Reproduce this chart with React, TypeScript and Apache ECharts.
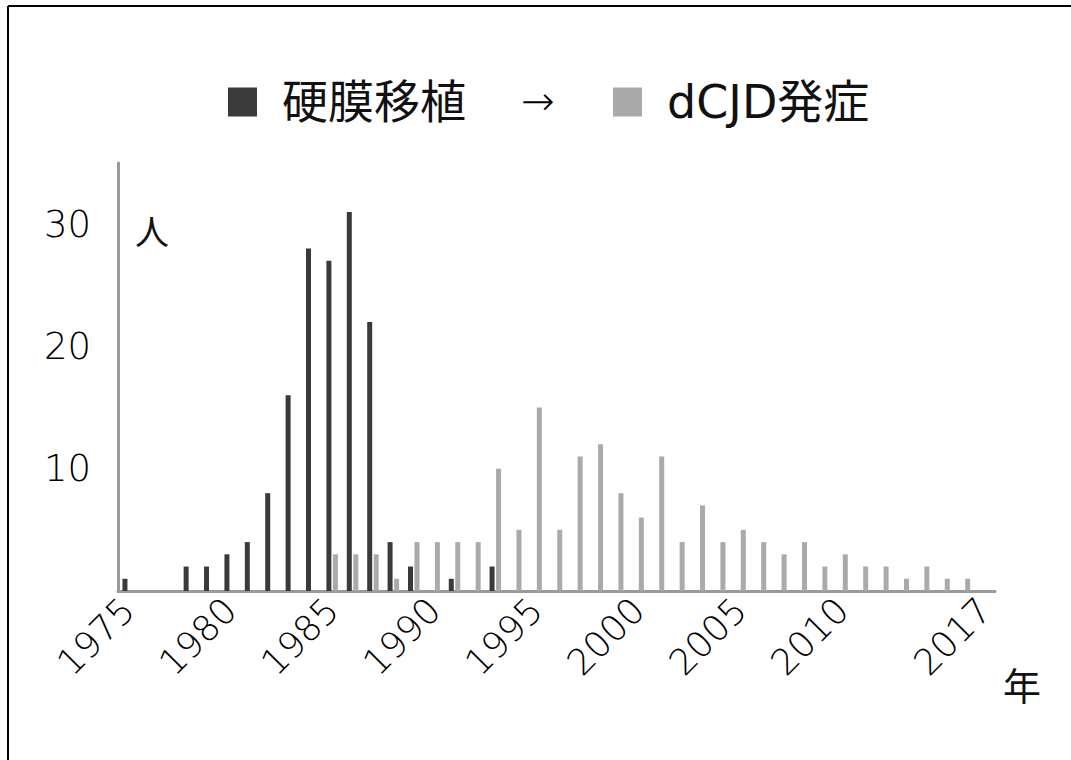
import React, { useEffect, useRef } from "react";
import * as echarts from "echarts";

const years = [
  "1975", "1976", "1977", "1978", "1979", "1980", "1981", "1982", "1983", "1984",
  "1985", "1986", "1987", "1988", "1989", "1990", "1991", "1992", "1993", "1994",
  "1995", "1996", "1997", "1998", "1999", "2000", "2001", "2002", "2003", "2004",
  "2005", "2006", "2007", "2008", "2009", "2010", "2011", "2012", "2013", "2014",
  "2015", "2016", "2017",
];

// 硬膜移植 (dura mater grafts) per year
const graftCounts = [
  1, 0, 0, 2, 2, 3, 4, 8, 16, 28,
  27, 31, 22, 4, 2, 0, 1, 0, 2, 0,
  0, 0, 0, 0, 0, 0, 0, 0, 0, 0,
  0, 0, 0, 0, 0, 0, 0, 0, 0, 0,
  0, 0, 0,
];

// dCJD発症 (onset) per year
const onsetCounts = [
  0, 0, 0, 0, 0, 0, 0, 0, 0, 0,
  3, 3, 3, 1, 4, 4, 4, 4, 10, 5,
  15, 5, 11, 12, 8, 6, 11, 4, 7, 4,
  5, 4, 3, 4, 2, 3, 2, 2, 1, 2,
  1, 1, 0,
];

const shownYearLabels = ["1975", "1980", "1985", "1990", "1995", "2000", "2005", "2010", "2017"];
const shownValueLabels = [10, 20, 30];

const seriesNames = ["硬膜移植", "dCJD発症"];
const DARK = "#3a3a3a";
const LIGHT = "#aaaaaa";
const AXIS = "#9a9a9a";
const NUM_FONT = "'DejaVu Sans', 'Noto Sans CJK JP', sans-serif";
const CJK_FONT = "'Noto Sans CJK JP', sans-serif";

export default function App() {
  const ref = useRef<HTMLDivElement>(null);

  useEffect(() => {
    if (!ref.current) return;
    const chart = echarts.init(ref.current, null, { renderer: "svg" });
    chart.setOption({
      animation: false,
      backgroundColor: "#ffffff",
      grid: { left: 118, right: 76, top: 163, bottom: 169, containLabel: false },
      legend: {
        left: 228,
        top: 78,
        padding: 0,
        itemWidth: 29,
        itemHeight: 29,
        itemGap: 147,
        icon: "rect",
        data: seriesNames,
        textStyle: {
          fontSize: 46,
          fontFamily: NUM_FONT,
          color: "#111",
          padding: [0, 0, 0, 20],
          lineHeight: 48,
        },
      },
      xAxis: {
        type: "category",
        data: years,
        axisLine: { show: true, lineStyle: { color: AXIS, width: 3 } },
        axisTick: { show: false },
        axisLabel: {
          interval: (_i: number, v: string) => shownYearLabels.includes(v),
          rotate: 45,
          margin: 13,
          fontSize: 36,
          fontWeight: 200,
          fontFamily: NUM_FONT,
          color: "#000",
        },
      },
      yAxis: {
        type: "value",
        min: 0,
        max: 35,
        interval: 10,
        splitLine: { show: false },
        axisLine: { show: true, lineStyle: { color: AXIS, width: 3 } },
        axisTick: { show: false },
        axisLabel: {
          margin: 27,
          fontSize: 37,
          fontWeight: 200,
          fontFamily: NUM_FONT,
          color: "#000",
          showMaxLabel: false,
          formatter: (v: number) => (shownValueLabels.includes(v) ? String(v) : ""),
        },
      },
      series: [
        {
          name: seriesNames[0],
          type: "bar",
          data: graftCounts,
          barWidth: 5,
          barGap: "30%",
          itemStyle: { color: DARK },
        },
        {
          name: seriesNames[1],
          type: "bar",
          data: onsetCounts,
          barWidth: 5,
          itemStyle: { color: LIGHT },
        },
      ],
      graphic: [
        { type: "line", shape: { x1: 8, y1: 6, x2: 1071, y2: 6 }, style: { stroke: "#000", lineWidth: 2 } },
        { type: "line", shape: { x1: 8, y1: 6, x2: 8, y2: 760 }, style: { stroke: "#000", lineWidth: 2 } },
        {
          type: "text",
          x: 538,
          y: 101,
          style: { text: "→", fontSize: 40, fontFamily: NUM_FONT, fontWeight: 200, fill: "#000", textAlign: "center", textVerticalAlign: "middle" },
        },
        {
          type: "text",
          x: 152,
          y: 230,
          style: { text: "人", fontSize: 34, fontFamily: CJK_FONT, fill: "#111", textAlign: "center", textVerticalAlign: "middle" },
        },
        {
          type: "text",
          x: 1022,
          y: 683,
          style: { text: "年", fontSize: 38, fontFamily: CJK_FONT, fill: "#111", textAlign: "center", textVerticalAlign: "middle" },
        },
      ],
    });
    return () => chart.dispose();
  }, []);

  return (
    <div
      ref={ref}
      style={{ position: "absolute", left: 0, top: 0, width: 1071, height: 760 }}
    />
  );
}
